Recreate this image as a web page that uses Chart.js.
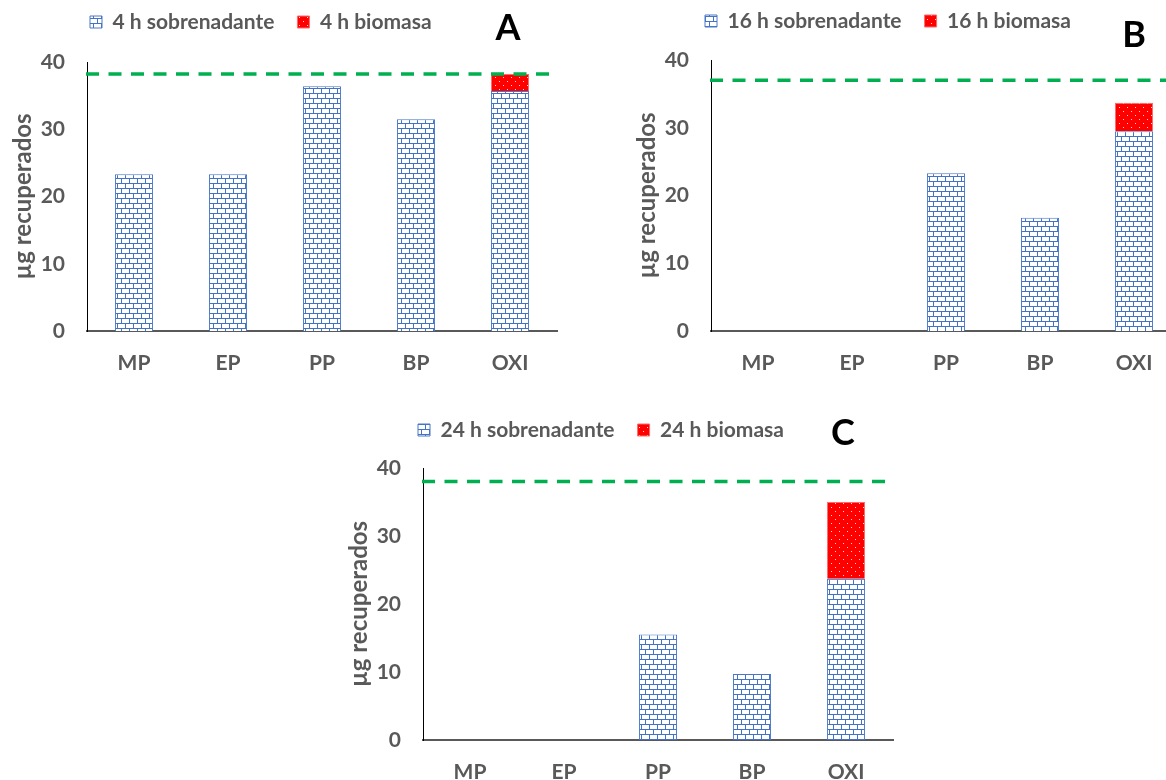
<!DOCTYPE html>
<html lang="es">
<head>
<meta charset="utf-8">
<title>µg recuperados</title>
<script src="https://cdn.jsdelivr.net/npm/chart.js"></script>
<style>
    html, body {
        margin: 0;
        padding: 0;
        width: 1166px;
        height: 780px;
        overflow: hidden;
        background: #ffffff;
    }
    body { position: relative; }
    canvas { position: absolute; }
</style>
</head>
<body>
<canvas id="graficoA" width="640" height="430"></canvas>
<canvas id="graficoB" width="640" height="430"></canvas>
<canvas id="graficoC" width="640" height="430"></canvas>
<script>
// Datos (µg recuperados)
const categorias = ['MP', 'EP', 'PP', 'BP', 'OXI'];
const sobrenadante4h = [23.3, 23.3, 36.4, 31.5, 35.7];
const biomasa4h = [null, null, null, null, 2.5];
const sobrenadante16h = [null, null, 23.3, 16.7, 29.5];
const biomasa16h = [null, null, null, null, 4.2];
const sobrenadante24h = [null, null, 15.5, 9.7, 23.7];
const biomasa24h = [null, null, null, null, 11.3];
// línea verde discontinua de cada panel (A, B, C)
const referencia = [38.2, 37.0, 38.0];
const ticksY = [0, 10, 20, 30, 40];

const GRIS = '#595959';
const FUENTE = 'Lato, "Open Sans", sans-serif';

// patrón de ladrillos (sobrenadante)
function patronLadrillo() {
    const c = document.createElement('canvas');
    c.width = 8;
    c.height = 10;
    const g = c.getContext('2d');
    g.fillStyle = '#ffffff';
    g.fillRect(0, 0, 8, 10);
    g.fillStyle = '#4472C4';
    g.fillRect(0, 0, 8, 1);
    g.fillRect(0, 5, 8, 1);
    g.fillRect(0, 0, 1, 5);
    g.fillRect(4, 5, 1, 5);
    return g.createPattern(c, 'repeat');
}

// patrón rojo con puntitos (biomasa)
function patronPuntos() {
    const c = document.createElement('canvas');
    c.width = 8;
    c.height = 8;
    const g = c.getContext('2d');
    g.fillStyle = '#FF0000';
    g.fillRect(0, 0, 8, 8);
    g.fillStyle = '#ffd6d6';
    g.fillRect(2, 1, 1, 1);
    g.fillRect(6, 5, 1, 1);
    return g.createPattern(c, 'repeat');
}

// leyenda, línea de referencia y letra del panel
const extrasPanel = {
    id: 'extrasPanel',
    afterLayout(chart, args, opts) {
        const ley = chart.legend;
        if (!ley) return;
        const dx = chart.chartArea.left - opts.area.left;
        const dy = chart.chartArea.top - opts.area.top;
        const pad = ley.options.labels.padding;
        const alto = ley.bottom - ley.top;
        const medio = Math.max(ley.options.labels.font.size, ley.options.labels.boxHeight) / 2;
        ley.left = opts.leyenda.x + dx - pad;
        ley.top = opts.leyenda.y + dy - pad - medio;
        ley.bottom = ley.top + alto;
    },
    afterDatasetsDraw(chart, args, opts) {
        const ctx = chart.ctx;
        const area = chart.chartArea;
        const y = chart.scales.y.getPixelForValue(opts.referencia);
        ctx.save();
        ctx.strokeStyle = '#00B050';
        ctx.lineWidth = 3.5;
        ctx.setLineDash([13, 9.5]);
        ctx.beginPath();
        ctx.moveTo(area.left - 1, y);
        ctx.lineTo(area.right, y);
        ctx.stroke();
        ctx.restore();
    },
    afterDraw(chart, args, opts) {
        const ctx = chart.ctx;
        const dx = chart.chartArea.left - opts.area.left;
        const dy = chart.chartArea.top - opts.area.top;
        ctx.save();
        ctx.font = 'bold 36px ' + FUENTE;
        ctx.fillStyle = '#000000';
        ctx.textAlign = 'center';
        ctx.textBaseline = 'middle';
        ctx.fillText(opts.letra.texto, opts.letra.x + dx, opts.letra.y + dy);
        ctx.restore();
    }
};

function fuente(tam) {
    return { family: FUENTE, size: tam, weight: 'bold' };
}

function crearPanel(idCanvas, cfg) {
    const canvas = document.getElementById(idCanvas);
    const chart = new Chart(canvas, {
        type: 'bar',
        data: {
            labels: categorias,
            datasets: [
                {
                    label: cfg.horas + ' sobrenadante',
                    data: cfg.sobrenadante,
                    backgroundColor: ladrillo,
                    borderColor: '#4a78c8',
                    borderWidth: 1,
                    barPercentage: 0.405,
                    categoryPercentage: 1
                },
                {
                    label: cfg.horas + ' biomasa',
                    data: cfg.biomasa,
                    backgroundColor: puntos,
                    borderColor: '#ff6a6a',
                    borderWidth: 1,
                    barPercentage: 0.405,
                    categoryPercentage: 1
                }
            ]
        },
        options: {
            responsive: false,
            animation: false,
            events: [],
            layout: { padding: { left: 0, top: 0, right: 0, bottom: 0 } },
            plugins: {
                tooltip: { enabled: false },
                legend: {
                    position: 'top',
                    align: 'start',
                    labels: {
                        boxWidth: 12,
                        boxHeight: 12,
                        padding: 23,
                        color: GRIS,
                        font: fuente(21)
                    }
                },
                extrasPanel: {
                    area: cfg.area,
                    leyenda: cfg.leyenda,
                    letra: cfg.letra,
                    referencia: cfg.referencia
                }
            },
            scales: {
                x: {
                    stacked: true,
                    z: 1,
                    grid: { display: false, drawTicks: false },
                    border: { display: true, color: GRIS, width: 2 },
                    ticks: { color: GRIS, padding: 20, font: fuente(21) }
                },
                y: {
                    stacked: true,
                    min: ticksY[0],
                    max: ticksY[ticksY.length - 1],
                    grid: { display: false, drawTicks: false },
                    border: { display: true, color: '#000000', width: 1 },
                    ticks: {
                        stepSize: ticksY[1] - ticksY[0],
                        color: GRIS,
                        padding: 22,
                        font: fuente(21)
                    },
                    title: {
                        display: true,
                        text: 'µg recuperados',
                        color: GRIS,
                        padding: { top: 0, bottom: 6 },
                        font: fuente(24)
                    },
                    // ancho fijo del eje para dejar el título donde está en el original
                    afterFit(escala) {
                        escala.width = 78;
                    }
                }
            }
        },
        plugins: [extrasPanel]
    });

    // ajustar el área de trazado al tamaño del original y colocar el lienzo
    const ca = chart.chartArea;
    chart.config.options.layout.padding = {
        left: 0,
        top: 0,
        right: ca.right - ca.left - cfg.area.width,
        bottom: ca.bottom - ca.top - cfg.area.height
    };
    chart.update();
    canvas.style.left = (cfg.area.left - chart.chartArea.left) + 'px';
    canvas.style.top = (cfg.area.top - chart.chartArea.top) + 'px';
    return chart;
}

const ladrillo = patronLadrillo();
const puntos = patronPuntos();

crearPanel('graficoA', {
    horas: '4 h',
    sobrenadante: sobrenadante4h,
    biomasa: biomasa4h,
    referencia: referencia[0],
    area: { left: 87, top: 62, width: 470, height: 269 },
    leyenda: { x: 90, y: 22 },
    letra: { texto: 'A', x: 508, y: 28 }
});

crearPanel('graficoB', {
    horas: '16 h',
    sobrenadante: sobrenadante16h,
    biomasa: biomasa16h,
    referencia: referencia[1],
    area: { left: 711, top: 60, width: 470, height: 271 },
    leyenda: { x: 705, y: 21 },
    letra: { texto: 'B', x: 1134, y: 35 }
});

crearPanel('graficoC', {
    horas: '24 h',
    sobrenadante: sobrenadante24h,
    biomasa: biomasa24h,
    referencia: referencia[2],
    area: { left: 423, top: 468, width: 470, height: 272 },
    leyenda: { x: 418, y: 430 },
    letra: { texto: 'C', x: 843, y: 433 }
});
</script>
</body>
</html>
